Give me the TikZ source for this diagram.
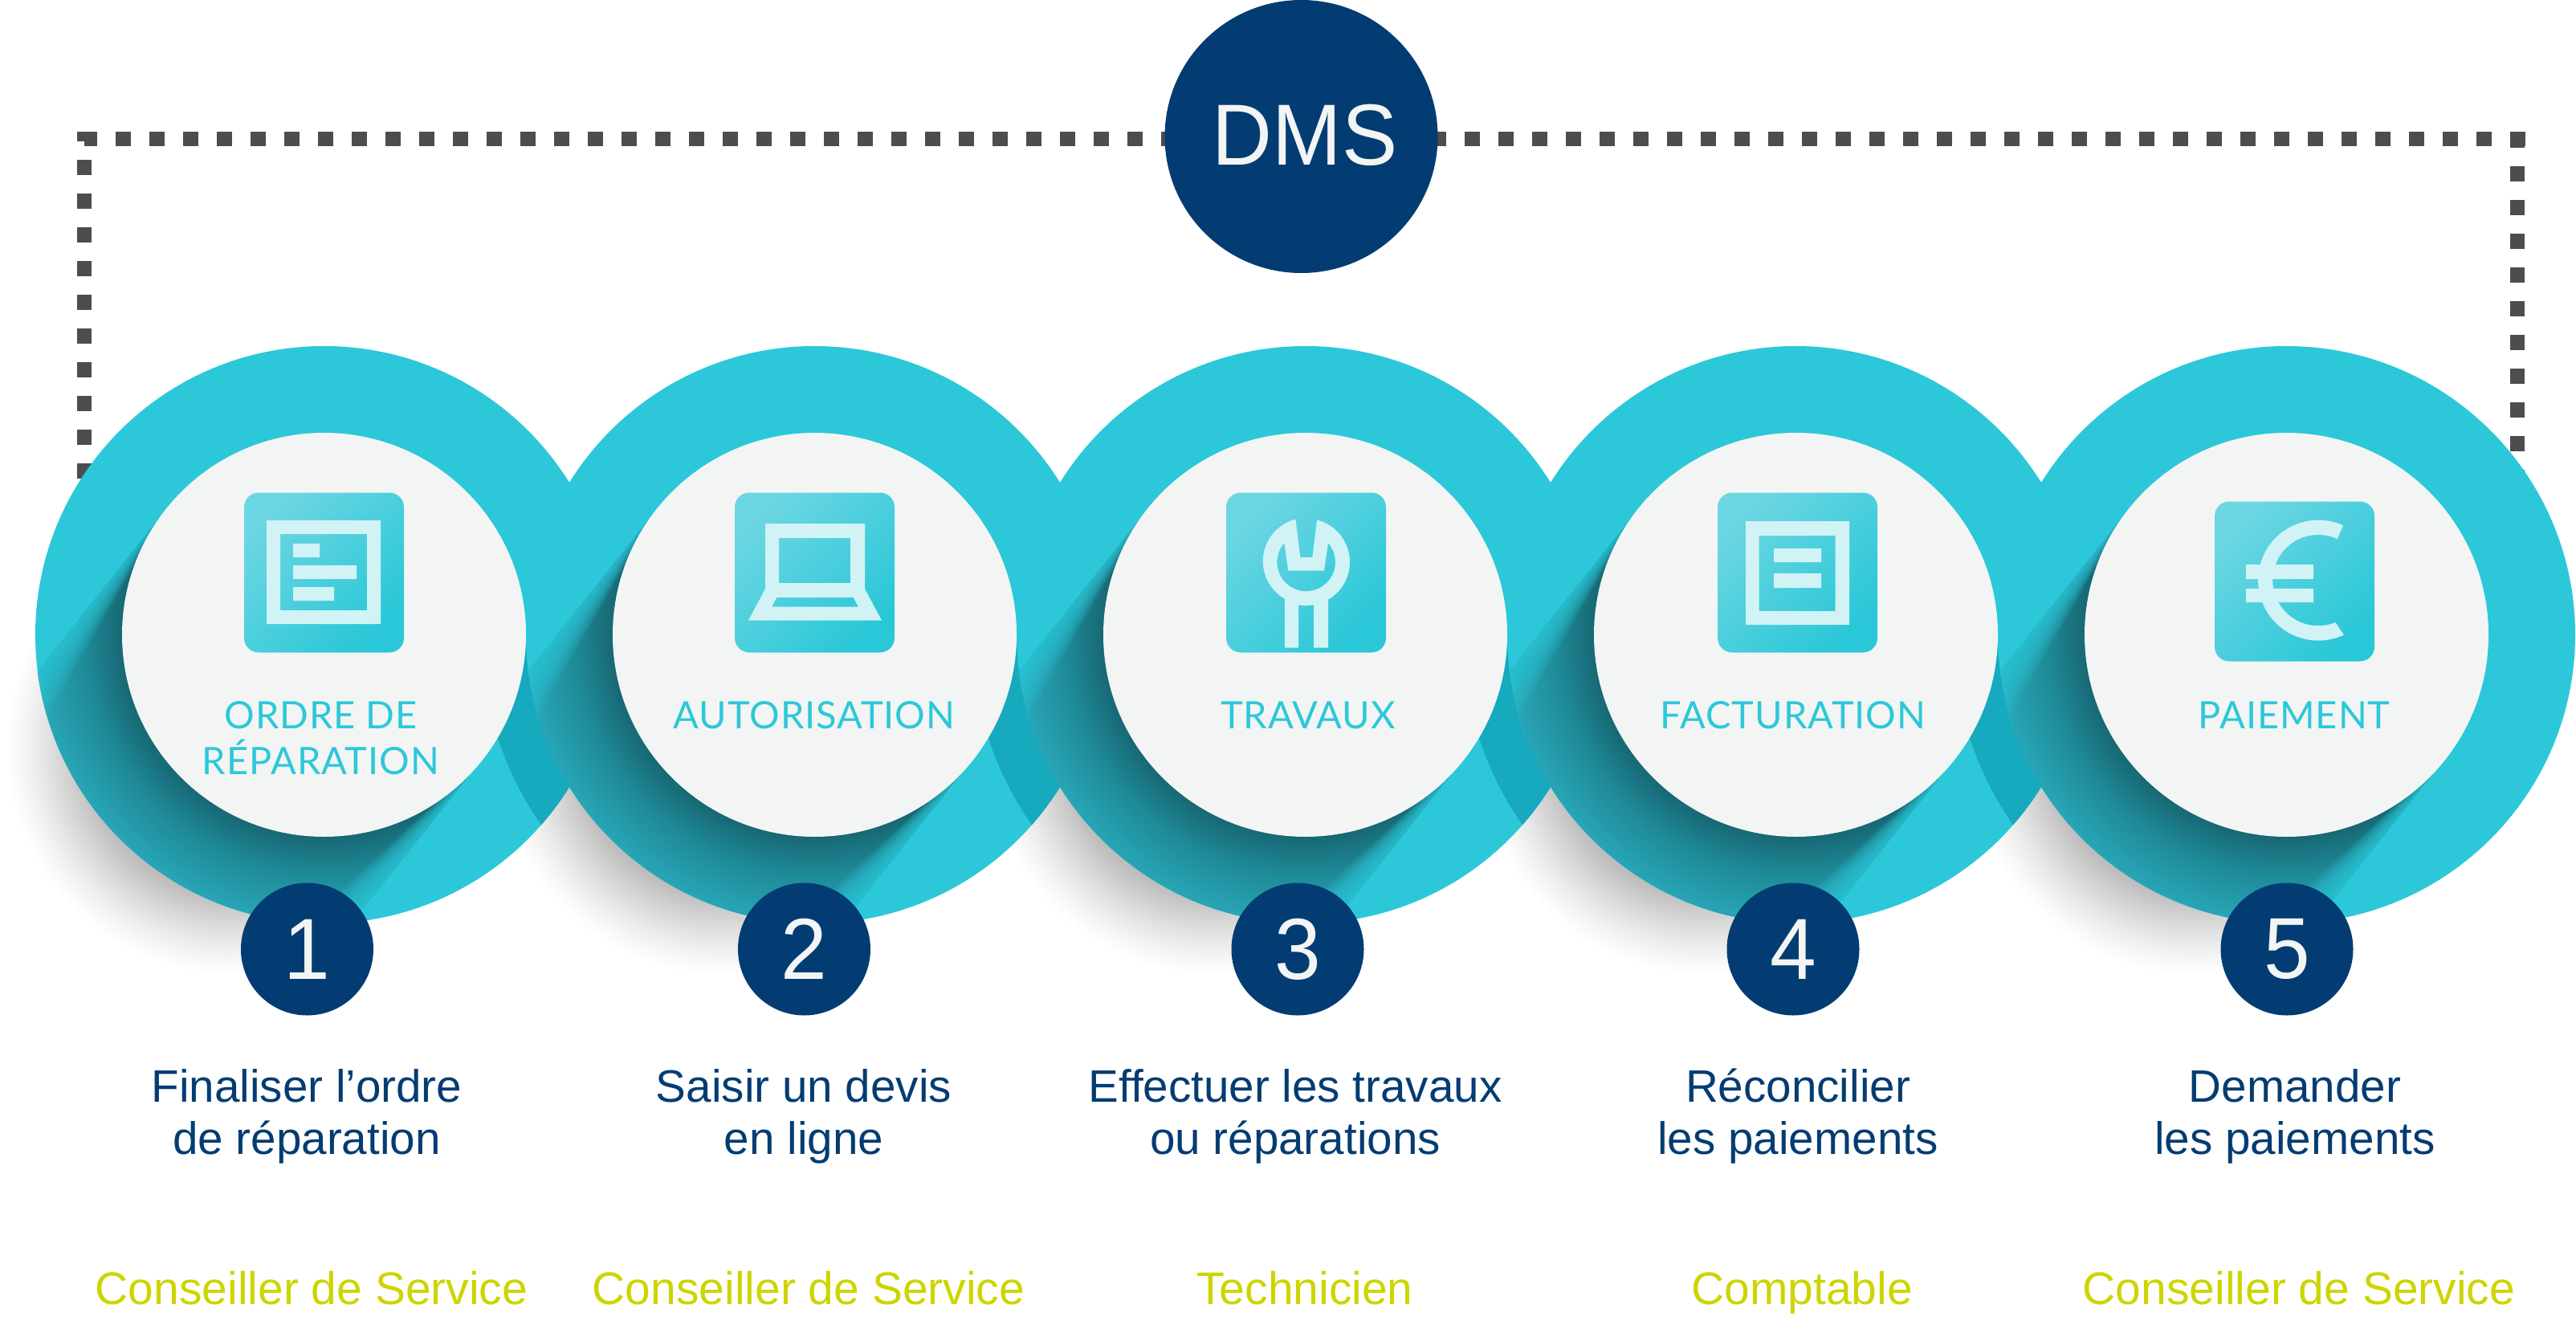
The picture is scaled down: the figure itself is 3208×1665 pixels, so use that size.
\documentclass[tikz,border=0pt]{standalone}
\usepackage{fontspec}
\setmainfont{Liberation Sans}
\newfontfamily\capsfont[LetterSpace=2]{Lato}
\newfontfamily\bigfont[FakeStretch=0.96]{Liberation Sans}
\usetikzlibrary{backgrounds}
\definecolor{ringc}{HTML}{2CC8D9}
\definecolor{bandc}{HTML}{17A9BE}
\definecolor{innerc}{HTML}{F3F5F4}
\definecolor{navyc}{HTML}{033C72}
\definecolor{limec}{HTML}{CDD500}
\definecolor{dashc}{HTML}{4D4D4F}
\definecolor{iconhi}{HTML}{6CD6E2}
\definecolor{iconlo}{HTML}{2AC7D8}
\definecolor{glyphc}{HTML}{D1F3F6}
\definecolor{shA}{HTML}{176874}
\definecolor{shB}{HTML}{1F8A98}
\definecolor{shC}{HTML}{28A6B6}
\pgfdeclareradialshading{longshadow}{\pgfpoint{0bp}{0bp}}{color(0bp)=(shA); color(17.47bp)=(shA); color(20.8bp)=(shB); color(25bp)=(shC); color(50bp)=(shC)}
\tikzset{
  ringnode/.style={circle,inner sep=0pt,minimum size=359.5pt,fill=ringc},
  innernode/.style={circle,inner sep=0pt,minimum size=251.5pt,fill=innerc},
  numnode/.style={circle,inner sep=0pt,minimum size=82.5pt,fill=navyc,text=innerc,font=\bigfont\fontsize{54}{54}\selectfont},
  dmsnode/.style={circle,inner sep=0pt,minimum size=170pt,fill=navyc,text=innerc,font=\bigfont\fontsize{54}{54}\selectfont},
  iconbox/.style={rectangle,inner sep=0pt,minimum size=99.5pt,rounded corners=9pt,top color=iconhi,bottom color=iconlo,shading angle=45},
  glyph/.style={fill=glyphc,even odd rule},
  dotline/.style={dashc,line width=9pt,dash pattern=on 9.5pt off 11.5pt},
  steplabel/.style={anchor=base,inner sep=0pt,text=ringc,align=center,font=\capsfont\fontsize{23.5}{28.75}\selectfont},
  tasklabel/.style={anchor=base,inner sep=0pt,text=navyc,align=center,font=\fontsize{28.3}{32.5}\selectfont},
  rolelabel/.style={anchor=base,inner sep=0pt,text=limec,font=\fontsize{28.5}{32.5}\selectfont}
}
\begin{document}
\begin{tikzpicture}[x=0.5pt,y=-0.5pt]
\useasboundingbox (0,0) rectangle (3208,1665);
% soft drop shadows on the white ground: concentric, very faint discs
\foreach \cx in {403.5,1014.5,1625.5,2236.5,2847.5}{
  \foreach \k in {1,...,36}{
    \pgfmathsetmacro\r{290-110*(\k/36)^0.75}
    \fill[black,opacity=0.007] ({\cx-0.62*180},{790+0.78*180}) circle (\r);
  }
}
% rings, with the long shadow of the inner disc and the band cast by the next ring
\foreach \cx/\i in {403.5/1,1014.5/2,1625.5/3,2236.5/4,2847.5/5}{
  \node[ringnode] (ring\i) at (\cx,790.5) {};
  \begin{scope}
    \clip (\cx,790.5) circle (359.5);
    \clip ({\cx-196.2},{790-155.9}) -- ({\cx-196.2-372},{790-155.9+468}) -- ({\cx+196.2-372},{790+155.9+468}) -- ({\cx+196.2},{790+155.9}) -- cycle;
    \shade[shading=longshadow] (\cx,790.5) circle (360);
    \foreach \w in {6,12,...,60}{
      \fill[ringc,opacity=0.15] ({\cx+196.2},{790+155.9}) -- ({\cx+196.2-248},{790+155.9+312}) -- ({\cx+196.2-248-0.78*\w},{790+155.9+312-0.62*\w}) -- cycle;
      \fill[ringc,opacity=0.15] ({\cx-196.2},{790-155.9}) -- ({\cx-196.2-248},{790-155.9+312}) -- ({\cx-196.2-248+0.78*\w},{790-155.9+312+0.62*\w}) -- cycle;
    }
  \end{scope}
  \ifnum\i<5
    \begin{scope}
      \clip (\cx,790.5) circle (359.5);
      \clip (\cx,790) rectangle ({\cx+400},1200);
      \fill[bandc] ({\cx+611},790) circle (415);
    \end{scope}
  \fi
}
% inner discs
\foreach \cx/\i in {403.5/1,1014.5/2,1625.5/3,2236.5/4,2847.5/5}{
  \node[innernode] (inner\i) at (\cx,790.5) {};
}
% icon tiles
\node[iconbox] (box1) at (403.5,713) {};
\node[iconbox] (box2) at (1014.5,713) {};
\node[iconbox] (box3) at (1626.5,713) {};
\node[iconbox] (box4) at (2238.5,713) {};
\node[iconbox] (box5) at (2857.5,724) {};
% icon 1: form
\fill[glyph] (332,648) rectangle (474,777) (349,665) rectangle (457,760);
\fill[glyphc] (365,677) rectangle (398,694) (365,704) rectangle (444,721) (365,731) rectangle (416,748);
% icon 2: laptop
\fill[glyph] (953,652) -- (1077,652) -- (1077,733.3) -- (1098,772.7) -- (932,772.7) -- (953,733.3) -- cycle
  (970,670) rectangle (1059,726)
  (967.3,744) -- (1062.7,744) -- (1069,755.7) -- (961,755.7) -- cycle;
% icon 3: wrench
\begin{scope}[shift={(1500,590)},x=0.16667pt,y=-0.16667pt]
  \fill[glyph] (340,170) arc[start angle=255.6,end angle=120,radius=162] -- (300,650) -- (351,650) -- (351,490) -- (380,493) -- (408,490) -- (408,650) -- (462,650) -- (462,470) arc[start angle=60,end angle=-76,radius=162] -- (403,312) -- (358,312) -- cycle
   (298,258) arc[start angle=221.3,end angle=-41.2,radius=109] -- (447,362) -- (313,362) -- cycle;
\end{scope}
% icon 4: invoice
\fill[glyph] (2174,649) rectangle (2303,778) (2190.7,667) rectangle (2285.7,761);
\fill[glyphc] (2209,683) rectangle (2268,700) (2209,714) rectangle (2268,732);
% icon 5: euro
\begin{scope}[shift={(2740,600)},x=0.16667pt,y=-0.16667pt]
  \fill[glyphc] (534,163) arc[start angle=294.3,end angle=65,radius=225] -- (505,525) arc[start angle=67.7,end angle=295,radius=170] -- cycle;
  \fill[glyphc] (171,309) rectangle (423,363) (171,399) rectangle (423,450);
\end{scope}
% labels inside the discs
\node[steplabel] (step1) at (399.5,964.5) {ORDRE DE\\RÉPARATION};
\node[steplabel] (step2) at (1014,907) {AUTORISATION};
\node[steplabel] (step3) at (1629,907) {TRAVAUX};
\node[steplabel] (step4) at (2233,907) {FACTURATION};
\node[steplabel] (step5) at (2857,907) {PAIEMENT};
% numbers
\node[numnode] (num1) at (382.5,1182) {1};
\node[numnode] (num2) at (1001.5,1182) {2};
\node[numnode] (num3) at (1616,1182) {3};
\node[numnode] (num4) at (2233,1182) {4};
\node[numnode] (num5) at (2848,1182) {5};
% tasks
\node[tasklabel] (task1) at (382,1437) {Finaliser l’ordre\\de réparation};
\node[tasklabel] (task2) at (1001,1437) {Saisir un devis\\en ligne};
\node[tasklabel] (task3) at (1613,1437) {Effectuer les travaux\\ou réparations};
\node[tasklabel] (task4) at (2239,1437) {Réconcilier\\les paiements};
\node[tasklabel] (task5) at (2858,1437) {Demander\\les paiements};
% roles
\node[rolelabel] (role1) at (388,1624) {Conseiller de Service};
\node[rolelabel] (role2) at (1007,1624) {Conseiller de Service};
\node[rolelabel] (role3) at (1625,1624) {Technicien};
\node[rolelabel] (role4) at (2244,1624) {Comptable};
\node[rolelabel] (role5) at (2863,1624) {Conseiller de Service};
% DMS
\node[dmsnode] (dms) at (1620.5,170) {\raisebox{2.25pt}{\hspace{4.5pt}DMS}};
% dotted frame behind everything
\coordinate (tl) at (105,173);
\coordinate (tr) at (3145,173);
\coordinate (tlv) at (105,164);
\coordinate (trv) at (3135,165);
\begin{scope}[on background layer]
  \draw[dotline,dash phase=1.5pt] (tl) -- (tl -| dms.center);
  \draw[dotline,dash phase=3.25pt] (tl -| dms.center) -- (tr);
  \draw[dotline,dash phase=3.5pt] (tlv) -- (tlv |- ring1.center);
  \draw[dotline] (trv) -- (trv |- ring5.center);
\end{scope}
\end{tikzpicture}
\end{document}
